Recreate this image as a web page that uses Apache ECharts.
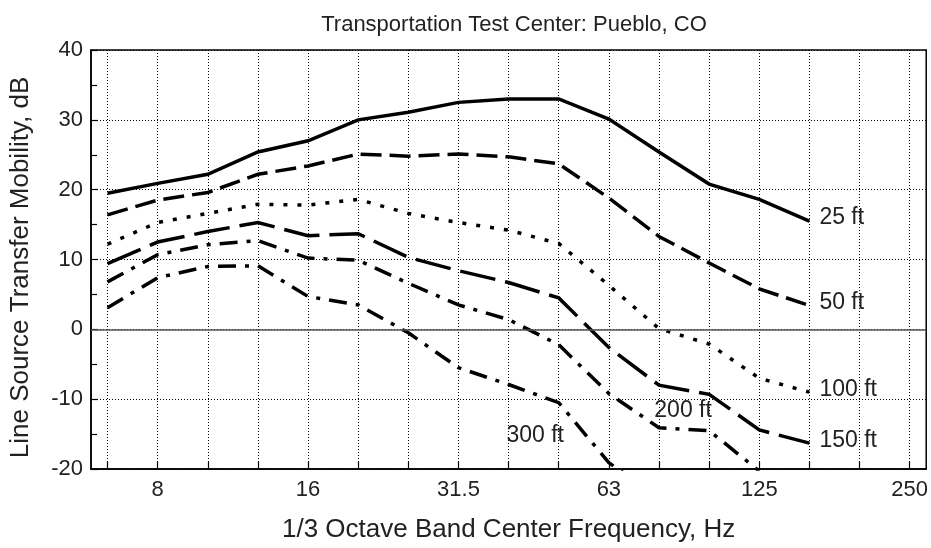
<!DOCTYPE html>
<html>
<head>
<meta charset="utf-8">
<title>Line Source Transfer Mobility</title>
<script src="https://cdn.jsdelivr.net/npm/echarts@6/dist/echarts.min.js"></script>
<style>
  html, body { margin: 0; padding: 0; background: #fff; }
  #chart { width: 931px; height: 548px; }
</style>
</head>
<body>
<div id="chart"></div>
<script>
// 1/3 octave band centre frequencies (Hz); the x axis runs over their index
const bands = ['6.3', '8', '10', '12.5', '16', '20', '25', '31.5', '40', '50', '63', '80', '100', '125', '160', '200', '250'];
const labelledBands = [1, 4, 7, 10, 13, 16];

// Line source transfer mobility (dB) per band, one array per distance
const ft25  = [19.5, 20.9, 22.2, 25.4, 27.0, 30.0, 31.1, 32.5, 33.0, 33.0, 30.1, 25.4, 20.8, 18.6, 15.5];
const ft50  = [16.4, 18.5, 19.6, 22.2, 23.4, 25.1, 24.8, 25.1, 24.7, 23.7, 18.8, 13.3, 9.5, 5.8, 3.4];
const ft100 = [12.2, 15.3, 16.6, 17.9, 17.8, 18.6, 16.6, 15.3, 14.2, 12.3, 6.3, 0.1, -2.1, -7.0, -9.0];
const ft150 = [9.4, 12.5, 14.0, 15.3, 13.4, 13.7, 10.3, 8.4, 6.7, 4.5, -2.6, -8.0, -9.3, -14.4, -16.3];
const ft200 = [6.8, 10.7, 12.1, 12.7, 10.2, 9.9, 6.6, 3.5, 1.4, -2.2, -9.2, -14.1, -14.5, -20.3];
const ft300 = [3.1, 7.4, 9.0, 9.1, 4.7, 3.5, -0.5, -5.5, -7.9, -10.5, -19.1, -24.0];

const FONT = '"Liberation Sans", Arial, Helvetica, sans-serif';
const INK = '#222';

function pairs(values) {
  return values.map((v, i) => [i, v]);
}

const dashStyles = {
  '25 ft': 'solid',
  '50 ft': [21, 8],
  '100 ft': [4, 10],
  '150 ft': [36, 10],
  '200 ft': [18, 9, 4, 9],
  '300 ft': [18, 9, 4, 9]
};

function lineSeries(name, values, extra) {
  return Object.assign({
    name: name,
    type: 'line',
    data: pairs(values),
    symbol: 'none',
    silent: true,
    animation: false,
    clip: true,
    lineStyle: { color: '#000', width: 3.5, type: dashStyles[name], cap: 'butt', join: 'miter' },
    z: 3
  }, extra || {});
}

// labels that sit at the right-hand end of their curve
function endLabel() {
  return {
    show: true,
    formatter: '{a}',
    distance: 10,
    offset: [0, -3],
    color: INK,
    fontFamily: FONT,
    fontSize: 23
  };
}

// labels placed inside the plot near their (clipped) curve
function floatingLabel(text, at) {
  return {
    symbol: 'circle',
    symbolSize: 0,
    silent: true,
    animation: false,
    label: { show: true, position: 'inside', formatter: text, color: INK, fontFamily: FONT, fontSize: 23 },
    data: [{ coord: at }]
  };
}

const chart = echarts.init(document.getElementById('chart'), null, { renderer: 'canvas' });

chart.setOption({
  animation: false,
  backgroundColor: '#fff',
  title: {
    text: 'Transportation Test Center: Pueblo, CO',
    left: 509,
    top: 9,
    textAlign: 'center',
    textStyle: { fontFamily: FONT, fontSize: 22, fontWeight: 'normal', color: INK }
  },
  grid: {
    left: 90, right: 4, top: 50, bottom: 78,
    show: true, borderColor: '#000', borderWidth: 1.5, backgroundColor: 'transparent'
  },
  xAxis: {
    type: 'value',
    min: -0.33,
    max: 16.33,
    name: '1/3 Octave Band Center Frequency, Hz',
    nameLocation: 'middle',
    nameGap: 48,
    nameTextStyle: { fontFamily: FONT, fontSize: 26, color: INK },
    axisLine: { show: true, onZero: false, lineStyle: { color: '#000', width: 1.5 } },
    axisTick: {
      show: true, inside: true, length: 7,
      customValues: bands.map((b, i) => i),
      lineStyle: { color: '#000', width: 1.2 }
    },
    axisLabel: {
      customValues: labelledBands,
      formatter: v => bands[Math.round(v)],
      margin: 10,
      fontFamily: FONT, fontSize: 22, color: INK
    },
    splitLine: { show: true, lineStyle: { color: '#000', width: 1, type: [1, 2] } }
  },
  yAxis: {
    type: 'value',
    min: -20,
    max: 40,
    interval: 10,
    name: 'Line Source Transfer Mobility, dB',
    nameLocation: 'middle',
    nameGap: 57,
    nameTextStyle: { fontFamily: FONT, fontSize: 26, color: INK, padding: [0, 16, 0, 0] },
    axisLine: { show: true, onZero: false, lineStyle: { color: '#000', width: 1.5 } },
    axisTick: { show: true, inside: true, length: 7, lineStyle: { color: '#000', width: 1.2 } },
    minorTick: { show: true, splitNumber: 2, length: 6, lineStyle: { color: '#000', width: 1.2 } },
    axisLabel: { margin: 8, fontFamily: FONT, fontSize: 22, color: INK },
    splitLine: { show: true, lineStyle: { color: '#000', width: 1, type: [1, 2] } }
  },
  series: [
    lineSeries('25 ft', ft25, {
      endLabel: endLabel(),
      markLine: {
        silent: true, symbol: 'none', animation: false,
        label: { show: false },
        lineStyle: { color: '#555', width: 1.5, type: 'solid' },
        data: [{ yAxis: 0 }]
      }
    }),
    lineSeries('50 ft', ft50, { endLabel: endLabel() }),
    lineSeries('100 ft', ft100, { endLabel: endLabel() }),
    lineSeries('150 ft', ft150, { endLabel: endLabel() }),
    lineSeries('200 ft', ft200, { markPoint: floatingLabel('200 ft', [11.48, -11.7]) }),
    lineSeries('300 ft', ft300, { markPoint: floatingLabel('300 ft', [8.53, -15.25]) })
  ]
});
</script>
</body>
</html>
